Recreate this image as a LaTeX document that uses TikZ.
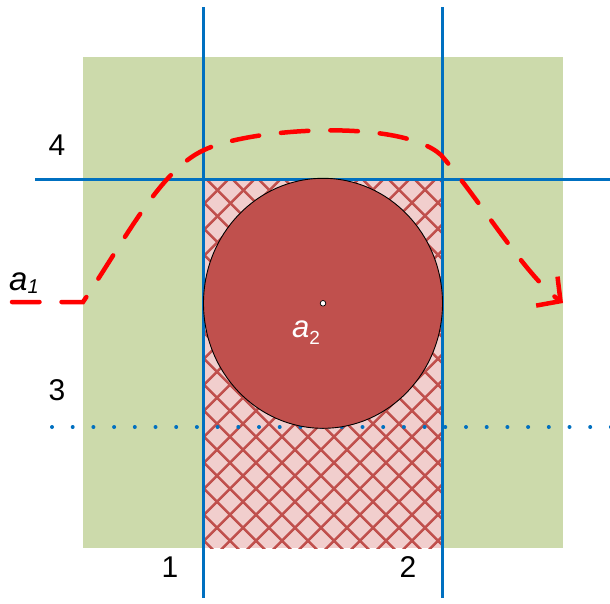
\documentclass[tikz,border=0pt]{standalone}
\usepackage{fontspec}
\setmainfont{Liberation Sans}
\usetikzlibrary{patterns.meta,arrows.meta}
\definecolor{bggreen}{RGB}{204,218,171}
\definecolor{hatchpink}{RGB}{241,206,205}
\definecolor{darkred}{RGB}{192,80,77}
\definecolor{lineblue}{RGB}{0,112,192}
\definecolor{curvered}{RGB}{255,0,0}
\tikzset{
  blueline/.style={draw=lineblue,line width=3.6pt},
  bluedots/.style={draw=lineblue,line width=4pt,line cap=round,dash pattern=on 0pt off 20.7pt},
  redcurve/.style={draw=curvered,line width=4.5pt,line cap=round,dash pattern=on 27.5pt off 22pt},
  numlabel/.style={font=\fontsize{30}{30}\selectfont,inner sep=0pt},
}
\begin{document}
\begin{tikzpicture}[x=1pt,y=-1pt]
\useasboundingbox (0,0) rectangle (610,603);
% background square
\fill[bggreen] (83,57) rectangle (563,548);
% hatched strip
\fill[hatchpink] (203,179) rectangle (443,548);
\fill[pattern={Lines[angle=45,distance=18.9pt,line width=2.9pt]},pattern color=darkred] (203,179) rectangle (443,548);
\fill[pattern={Lines[angle=-45,distance=18.9pt,line width=2.9pt]},pattern color=darkred] (203,179) rectangle (443,548);
% blue lines
\coordinate (v1t) at (203.3,7); \coordinate (v1b) at (203.3,598);
\coordinate (v2t) at (442.5,7); \coordinate (v2b) at (442.5,598);
\coordinate (h4l) at (35,179.5); \coordinate (h4r) at (610,179.5);
\coordinate (h3l) at (52,427); \coordinate (h3r) at (612,427);
\draw[blueline] (v1t) -- (v1b);
\draw[blueline] (v2t) -- (v2b);
\draw[blueline] (h4l) -- (h4r);
\draw[bluedots] (h3l) -- (h3r);
% circle
\draw[fill=darkred,draw=black,line width=0.9pt] (323,303.3) ellipse [x radius=119.5,y radius=125];
\draw[fill=white,draw=black,line width=0.7pt] (323,303.3) circle [radius=2.8];
% red dashed curve
\coordinate (c0) at (12,302);
\coordinate (c1) at (83,302);
\coordinate (c2) at (204,150);
\coordinate (c3) at (441,155);
\coordinate (c4) at (563,303);
\draw[redcurve,-{Straight Barb[length=17pt,width=36pt]}] (c0) -- (c1)
  .. controls (125,240) and (160,170) .. (c2)
  .. controls (250,128) and (400,118) .. (c3)
  .. controls (480,200) and (525,275) .. (c4);
% labels
\node[numlabel] (l4) at (57,145) {4};
\node[numlabel] (l3) at (57,390) {3};
\node[numlabel] (l1) at (170,567) {1};
\node[numlabel] (l2) at (408,567) {2};
\node[anchor=base west,inner sep=0pt] (a1) at (9,290) {\fontsize{33}{33}\selectfont\itshape a\raisebox{-3pt}{\fontsize{20}{20}\selectfont 1}};
\node[anchor=base west,inner sep=0pt,text=white] (a2) at (292,337) {\fontsize{31}{31}\selectfont\itshape a\raisebox{-7pt}{\fontsize{19}{19}\selectfont\upshape 2}};
\end{tikzpicture}
\end{document}
